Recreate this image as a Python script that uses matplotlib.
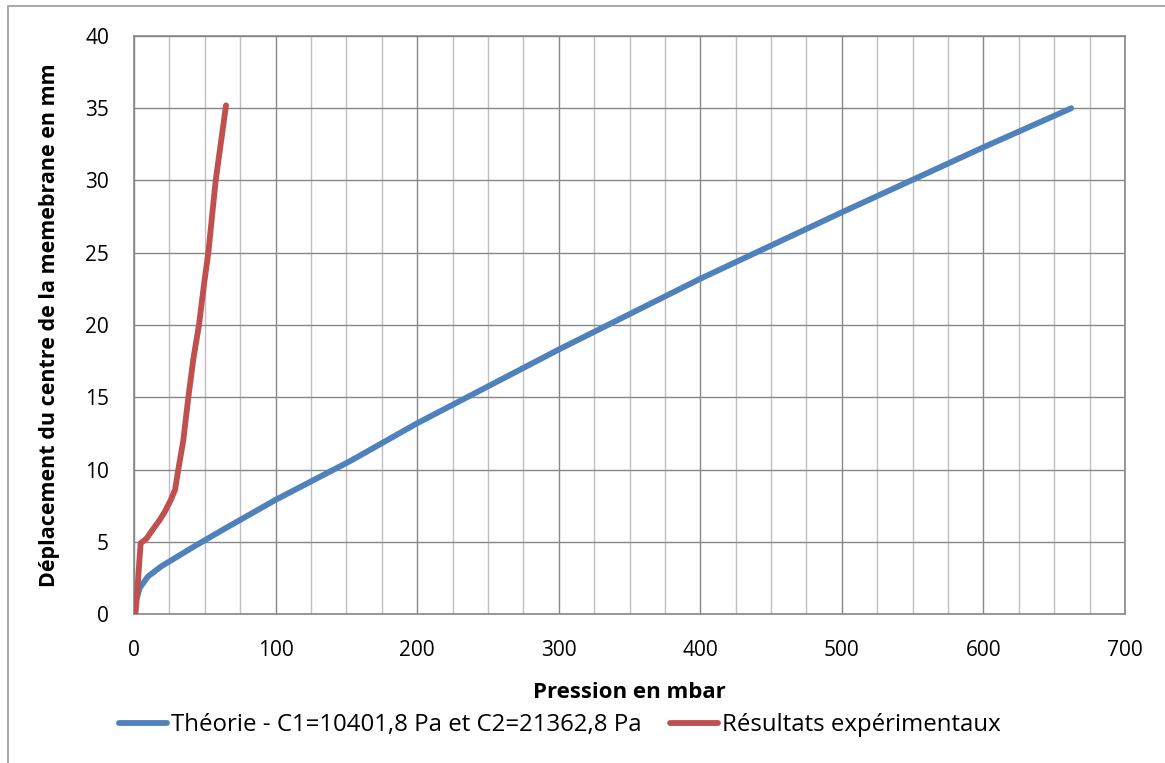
import matplotlib
matplotlib.use('Agg')
import matplotlib.pyplot as plt
from matplotlib.patches import Rectangle
from matplotlib.ticker import MultipleLocator

# Théorie (pression en mbar, déplacement en mm)
theorie_p = [0, 1, 2.3, 4, 9.9, 19.3, 31.1, 42.9, 64, 100, 153, 200, 300, 400, 500, 600, 662]
theorie_d = [0, 0.8, 1.2, 1.8, 2.6, 3.3, 4.0, 4.7, 5.9, 7.9, 10.6, 13.2, 18.3, 23.2, 27.8, 32.3, 35.0]

# Résultats expérimentaux
exp_p = [1.0, 2.3, 3.3, 4.7, 8.7, 12.2, 18.1, 21.9, 26, 29, 31.3, 34.8, 38.4, 42, 45.9, 49.7, 52.5, 57.7, 65]
exp_d = [0, 1.5, 3.0, 4.9, 5.2, 5.7, 6.5, 7.1, 7.9, 8.6, 10.0, 12.0, 15, 17.7, 20, 23, 25, 30, 35.2]

label_theorie = "Théorie - C1=10401,8 Pa et C2=21362,8 Pa"
label_exp = "Résultats expérimentaux"

plt.rcParams['font.family'] = ['Open Sans', 'DejaVu Sans']
fs = 15

fig = plt.figure(figsize=(11.65, 7.63), dpi=100)
ax = fig.add_axes([134 / 1165, 1 - 614 / 763, 991 / 1165, 578 / 763])

ax.plot(theorie_p, theorie_d, color='#4F81BD', lw=4.2, solid_capstyle='round',
        solid_joinstyle='round', label=label_theorie, zorder=3)
ax.plot(exp_p, exp_d, color='#C0504D', lw=4.2, solid_capstyle='round',
        solid_joinstyle='round', label=label_exp, zorder=4)

ax.set_xlim(0, 700)
ax.set_ylim(0, 40)
ax.xaxis.set_major_locator(MultipleLocator(100))
ax.xaxis.set_minor_locator(MultipleLocator(25))
ax.yaxis.set_major_locator(MultipleLocator(5))

ax.grid(which='major', color='#878787', lw=1.0)
ax.grid(which='minor', axis='x', color='#BFBFBF', lw=1.0)
ax.set_axisbelow(True)
for s in ax.spines.values():
    s.set_color('#878787')
    s.set_linewidth(1.2)

ax.tick_params(which='both', length=0, labelsize=fs, colors='black')
ax.tick_params(axis='x', pad=19)
ax.tick_params(axis='y', pad=18)

ax.set_xlabel("Pression en mbar", fontsize=16, fontweight='bold')
ax.xaxis.set_label_coords(0.5, -0.118)
ax.set_ylabel("Déplacement du centre de la memebrane en mm", fontsize=15.5, fontweight='bold')
ax.yaxis.set_label_coords(-0.0747, 0.5)

fig.legend(loc='center', bbox_to_anchor=(560 / 1165, 1 - 725 / 763), ncol=2,
           frameon=False, fontsize=17.3, handlelength=2.0, handletextpad=0.15,
           columnspacing=1.2)

# cadre du graphique
fig.patches.append(Rectangle((8 / 1165, -0.1), 2, 1.1 - 6 / 763, transform=fig.transFigure,
                             fill=False, edgecolor='#9A9A9A', lw=1.2))

fig.savefig('out.png', dpi=100)
